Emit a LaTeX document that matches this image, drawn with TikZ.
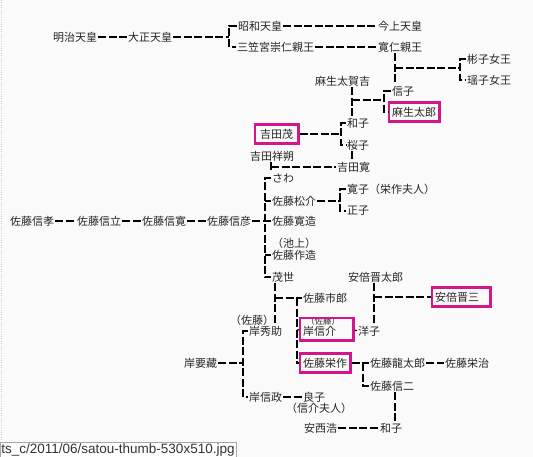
\documentclass[tikz,border=0pt]{standalone}
\usepackage{fontspec}
\newfontfamily\jp{Noto Sans CJK JP}
\newfontfamily\tipfont{Liberation Sans}
\usepackage{xcolor}
\usetikzlibrary{positioning, fit}
\definecolor{markpink}{RGB}{212,22,140}
\definecolor{paper}{RGB}{250,250,250}

\begin{document}
\begin{tikzpicture}[
                x=1pt, y=-1pt,
                person/.style={anchor=west, inner sep=1pt, font=\jp\fontsize{11}{13}\selectfont, text=black!85},
                small/.style={anchor=west, inner sep=1pt, font=\jp\fontsize{8.5}{10}\selectfont, text=black!85},
                hilite/.style={draw=markpink, line width=2.8pt, inner xsep=2pt, inner ysep=3pt},
                line/.style={draw, line width=1.3pt, dash pattern=on 8pt off 2.5pt}
            ]
            \useasboundingbox (0,0) rectangle (533,457);
            \clip (0,0) rectangle (533,457);
            \fill[paper] (0,0) rectangle (533,457);
            \draw[dotted, gray!40] (1,0) -- (1,457);

            % Imperial line
            \node[person] (meiji) at (52,37) {明治天皇};
            \node[person] (taisho) at (127,37) {大正天皇};
            \node[person] (showa) at (237,26) {昭和天皇};
            \node[person] (mikasa) at (236,47) {三笠宮崇仁親王};
            \node[person] (kinjo) at (377,26) {今上天皇};
            \node[person] (tomohito) at (377,47) {寛仁親王};
            \node[person] (akiko) at (466,59) {彬子女王};
            \node[person] (yokoq) at (466,80) {瑶子女王};

            % Aso / Yoshida
            \node[person] (takakichi) at (314,81) {麻生太賀吉};
            \node[person] (nobuko) at (391,91) {信子};
            \node[person] (taro) at (391,112) {麻生太郎};
            \node[person] (kazuko) at (346,123) {和子};
            \node[person] (sakurako) at (346,145) {桜子};
            \node[person] (shigeru) at (259,134) {吉田茂};
            \node[person] (shosaku) at (249,156) {吉田祥朔};
            \node[person] (hiroshi) at (336,167) {吉田寛};

            % Sato line
            \node[person] (nobutaka) at (9,221) {佐藤信孝};
            \node[person] (nobutatsu) at (76,221) {佐藤信立};
            \node[person] (nobuhiro) at (141,221) {佐藤信寛};
            \node[person] (nobuhiko) at (206,221) {佐藤信彦};
            \node[person] (sawa) at (271,178) {さわ};
            \node[person] (matsusuke) at (271,201) {佐藤松介};
            \node[person] (hiroko) at (346,189) {寛子（栄作夫人）};
            \node[person] (masako) at (346,211) {正子};
            \node[person] (kanzo) at (271,221) {佐藤寛造};
            \node[person] (ikegami) at (271,243) {（池上）};
            \node[person] (sakuzo) at (271,255) {佐藤作造};
            \node[person] (moyo) at (271,277) {茂世};

            % Kishi / Abe
            \node[person] (shintaro) at (347,277) {安倍晋太郎};
            \node[person] (ichiro) at (302,298) {佐藤市郎};
            \node[person] (shinzo) at (434,297) {安倍晋三};
            \node[person] (satolbl) at (229,320) {（佐藤）};
            \node[person] (hidesuke) at (248,331) {岸秀助};
            \node[small] (kishisato) at (305,321) {（佐藤）};
            \node[person] (nobusuke) at (302,331) {岸信介};
            \node[person] (yoko) at (357,331) {洋子};
            \node[person] (yozo) at (183,363) {岸要藏};
            \node[person] (eisaku) at (302,363) {佐藤栄作};
            \node[person] (ryutaro) at (369,363) {佐藤龍太郎};
            \node[person] (eiji) at (444,363) {佐藤栄治};
            \node[person] (shinji) at (369,386) {佐藤信二};
            \node[person] (nobumasa) at (248,397) {岸信政};
            \node[person] (yoshiko) at (302,397) {良子};
            \node[person] (fujin) at (285,408) {（信介夫人）};
            \node[person] (anzai) at (303,428) {安西浩};
            \node[person] (kazukob) at (379,428) {和子};

            % Highlight boxes
            \coordinate (shinzoend) at ([xshift=8pt]shinzo.east);
            \coordinate (nobusukeend) at ([xshift=14pt]nobusuke.east);
            \node[hilite, fit=(taro)] (tarobox) {};
            \node[hilite, fit=(shigeru), inner xsep=4pt] (shigerubox) {};
            \node[hilite, fit=(shinzo)(shinzoend)] (shinzobox) {};
            \node[hilite, fit=(nobusuke)(kishisato.center)(nobusukeend)] (nobusukebox) {};
            \node[hilite, fit=(eisaku)] (eisakubox) {};

            % Junctions
            \coordinate (br1) at (229,37);
            \coordinate (kv) at (395,68);
            \coordinate (br2) at (460,68);
            \coordinate (av) at (352,100);
            \coordinate (br3) at (384,100);
            \coordinate (br4) at (341,134);
            \coordinate (sv) at (271,167);
            \coordinate (br5) at (265,221);
            \coordinate (br6) at (340,201);
            \coordinate (mv) at (275,298);
            \coordinate (iv) at (297,298);
            \coordinate (abev) at (374,297);
            \coordinate (br7) at (243,363);
            \coordinate (br8) at (363,363);
            \coordinate (sjv) at (395,400);

            % Connections
            \draw[line] (meiji) -- (taisho);
            \draw[line] (taisho) -- (br1);
            \draw[line] (showa.west) -| (br1) |- (mikasa.west);
            \draw[line] (showa) -- (kinjo);
            \draw[line] (mikasa) -- (tomohito);
            \draw[line] (tomohito.south -| kv) -- (nobuko.north -| kv);
            \draw[line] (kv) -- (br2);
            \draw[line] (akiko.west) -| (br2) |- (yokoq.west);

            \draw[line] (takakichi.south -| av) -- (kazuko.north -| av);
            \draw[line] (av) -- (br3);
            \draw[line] (nobuko.west) -| (br3) |- (tarobox.west);
            \draw[line] (shigerubox) -- (br4);
            \draw[line] (kazuko.west) -| (br4) |- (sakurako.west);
            \draw[line] (sakurako.south -| av) -- (hiroshi.north -| av);
            \draw[line] (shosaku.south -| sv) -- (sawa.north -| sv);
            \draw[line] (sv) -- (hiroshi);

            \draw[line] (nobutaka) -- (nobutatsu);
            \draw[line] (nobutatsu) -- (nobuhiro);
            \draw[line] (nobuhiro) -- (nobuhiko);
            \draw[line] (nobuhiko) -- (kanzo);
            \draw[line] (sawa.west) -| (br5) |- (moyo.west);
            \draw[line] (br5 |- matsusuke) -- (matsusuke.west);
            \draw[line] (br5 |- sakuzo) -- (sakuzo.west);
            \draw[line] (matsusuke) -- (br6);
            \draw[line] (hiroko.west) -| (br6) |- (masako.west);

            \draw[line] (moyo.south -| mv) -- (hidesuke.north -| mv);
            \draw[line] (mv) -- (ichiro);
            \draw[line] (iv) |- (eisakubox.west);
            \draw[line] (iv |- nobusuke) -- (nobusukebox.west);
            \draw[line] (shintaro.south -| abev) -- (yoko.north -| abev);
            \draw[line] (abev) -- (shinzobox);
            \draw[line] (nobusukebox) -- (yoko);

            \draw[line] (yozo) -- (br7);
            \draw[line] (hidesuke.west) -| (br7) |- (nobumasa.west);
            \draw[line] (nobumasa) -- (yoshiko);
            \draw[line] (eisakubox) -- (ryutaro);
            \draw[line] (br8) |- (shinji.west);
            \draw[line] (ryutaro) -- (eiji);
            \draw[line] (shinji.south -| sjv) -- (kazukob.north -| sjv);
            \draw[line] (anzai) -- (kazukob);

            % Tooltip
            \node[anchor=base west, draw=gray!70, fill=white, inner sep=1.2pt, text=black!80,
                  font=\tipfont\fontsize{13.5}{15}\selectfont] (tooltip) at (0,453.5) {ts\_c/2011/06/satou-thumb-530x510.jpg};
        \end{tikzpicture}
\end{document}
